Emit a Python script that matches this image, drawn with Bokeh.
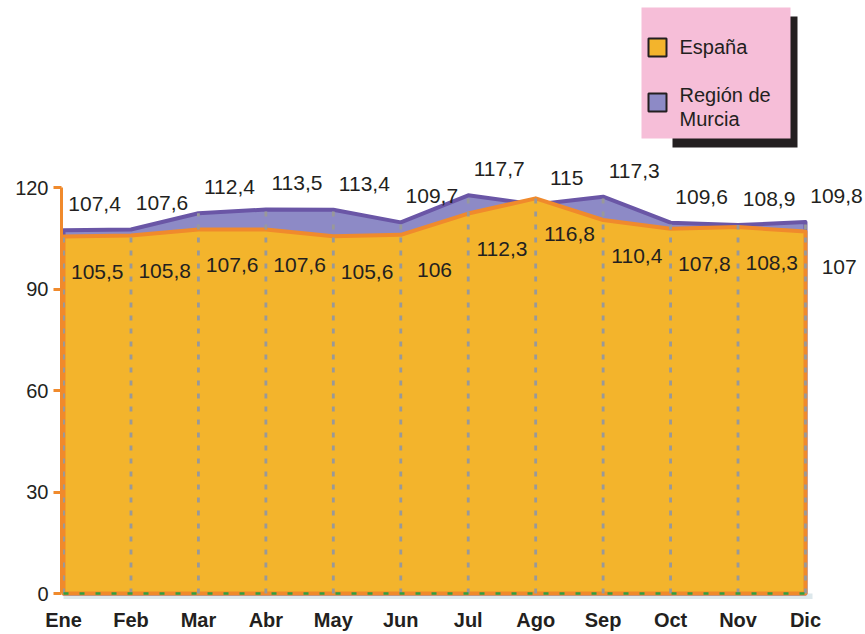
from bokeh.plotting import figure
from bokeh.models import Range1d, FixedTicker, BoxAnnotation
from bokeh.core.properties import value
from bokeh.embed import file_html
from bokeh.resources import INLINE

# ---------------- data ----------------
months = ["Ene", "Feb", "Mar", "Abr", "May", "Jun", "Jul", "Ago", "Sep", "Oct", "Nov", "Dic"]
espana = [105.5, 105.8, 107.6, 107.6, 105.6, 106, 112.3, 116.8, 110.4, 107.8, 108.3, 107]
murcia = [107.4, 107.6, 112.4, 113.5, 113.4, 109.7, 117.7, 115, 117.3, 109.6, 108.9, 109.8]
y_ticks = [0, 30, 60, 90, 120]
series_names = ["España", "Región de\nMurcia"]

def fmt(v):
    return f"{v:g}".replace(".", ",")

# ---------------- layout helpers (page pixels) ----------------
W, H = 865, 634
FRAME_LEFT = 61
PX_X = 67.45             # px per month
X0 = -0.03
PY = 3.3833              # px per unit
Y_ZERO = 593             # page px of y=0
FRAME_TOP, FRAME_BOTTOM, PAGE_RIGHT = 0, 600, 865

def px2x(px):
    return X0 + (px - FRAME_LEFT) / PX_X

def py2y(py):
    return (Y_ZERO - py) / PY

FONT = "Liberation Sans"
ORANGE_FILL = "#F3B42C"
ORANGE_LINE = "#F08A2C"
PURPLE_FILL = "#8D8AC6"
PURPLE_LINE = "#6A56A6"

p = figure(width=W, height=H, output_backend="svg", toolbar_location=None,
           x_range=Range1d(X0, px2x(PAGE_RIGHT)),
           y_range=Range1d(py2y(FRAME_BOTTOM), py2y(FRAME_TOP)),
           min_border_left=FRAME_LEFT, min_border_right=0,
           min_border_top=FRAME_TOP, min_border_bottom=H - FRAME_BOTTOM)
p.outline_line_color = None
p.xgrid.visible = False
p.ygrid.visible = False
p.background_fill_color = "white"

xs = list(range(len(months)))

# floor strip
p.add_layout(BoxAnnotation(left=xs[0], right=px2x(812), bottom=-1.6, top=0,
                           fill_color="#DDE8EC", fill_alpha=1, line_color=None,
                           level="underlay"))

# areas
p.patch(xs + [xs[-1], xs[0]], murcia + [0, 0], fill_color=PURPLE_FILL,
        line_color=PURPLE_LINE, line_width=4, line_join="round")
p.patch(xs + [xs[-1], xs[0]], espana + [0, 0], fill_color=ORANGE_FILL,
        line_color=ORANGE_LINE, line_width=4, line_join="round")

# vertical dashed grid lines
tops = [max(a, b) for a, b in zip(espana, murcia)]
p.segment(x0=xs, y0=[0] * len(xs), x1=xs, y1=tops, line_color="#999999",
          line_width=2.8, line_dash="5 8")

# green dashed baseline
p.line([xs[0], px2x(812)], [0, 0], line_color="#2EA043", line_width=2.5, line_dash="5 11")

# value labels
p.text(x=[x + 0.46 for x in xs], y=[v + 7.7 for v in murcia], text=[fmt(v) for v in murcia],
       text_font=value(FONT), text_font_size="21px", text_color="#231F20",
       text_align="center", text_baseline="middle")
p.text(x=[x + 0.5 for x in xs], y=[v - 10.5 for v in espana], text=[fmt(v) for v in espana],
       text_font=value(FONT), text_font_size="21px", text_color="#231F20",
       text_align="center", text_baseline="middle")

# axes
p.yaxis.ticker = FixedTicker(ticks=y_ticks)
p.yaxis.bounds = (0, 120)
p.yaxis.axis_line_color = ORANGE_LINE
p.yaxis.axis_line_width = 3
p.yaxis.major_tick_line_color = ORANGE_LINE
p.yaxis.major_tick_line_width = 3
p.yaxis.major_tick_out = 8
p.yaxis.major_tick_in = 0
p.yaxis.minor_tick_line_color = None
p.yaxis.major_label_standoff = 5
p.yaxis.major_label_text_font = FONT
p.yaxis.major_label_text_font_size = "20px"
p.yaxis.major_label_text_color = "#231F20"

p.xaxis.ticker = FixedTicker(ticks=xs)
p.xaxis.major_label_overrides = {i: m for i, m in enumerate(months)}
p.xaxis.axis_line_color = None
p.xaxis.major_tick_line_color = None
p.xaxis.minor_tick_line_color = None
p.xaxis.major_label_standoff = 2
p.xaxis.major_label_text_font = FONT
p.xaxis.major_label_text_font_style = "bold"
p.xaxis.major_label_text_font_size = "20px"
p.xaxis.major_label_text_color = "#231F20"

# legend (custom box with shadow)
p.quad(left=px2x(672), right=px2x(797), top=py2y(16), bottom=py2y(147),
       fill_color="#231F20", line_color=None)
p.quad(left=px2x(641), right=px2x(790), top=py2y(7), bottom=py2y(138),
       fill_color="#F6BED8", line_color=None)
p.quad(left=px2x(648), right=px2x(666), top=py2y(38), bottom=py2y(56),
       fill_color=ORANGE_FILL, line_color="#231F20", line_width=2)
p.quad(left=px2x(648), right=px2x(666), top=py2y(93), bottom=py2y(111),
       fill_color=PURPLE_FILL, line_color="#231F20", line_width=2)
p.text(x=[px2x(679), px2x(679), px2x(679)], y=[py2y(46), py2y(94), py2y(118)],
       text=[series_names[0]] + series_names[1].split("\n"),
       text_font=value(FONT), text_font_size="20px", text_color="#231F20",
       text_align="left", text_baseline="middle")

open("out.html", "w").write(file_html(p, INLINE))
